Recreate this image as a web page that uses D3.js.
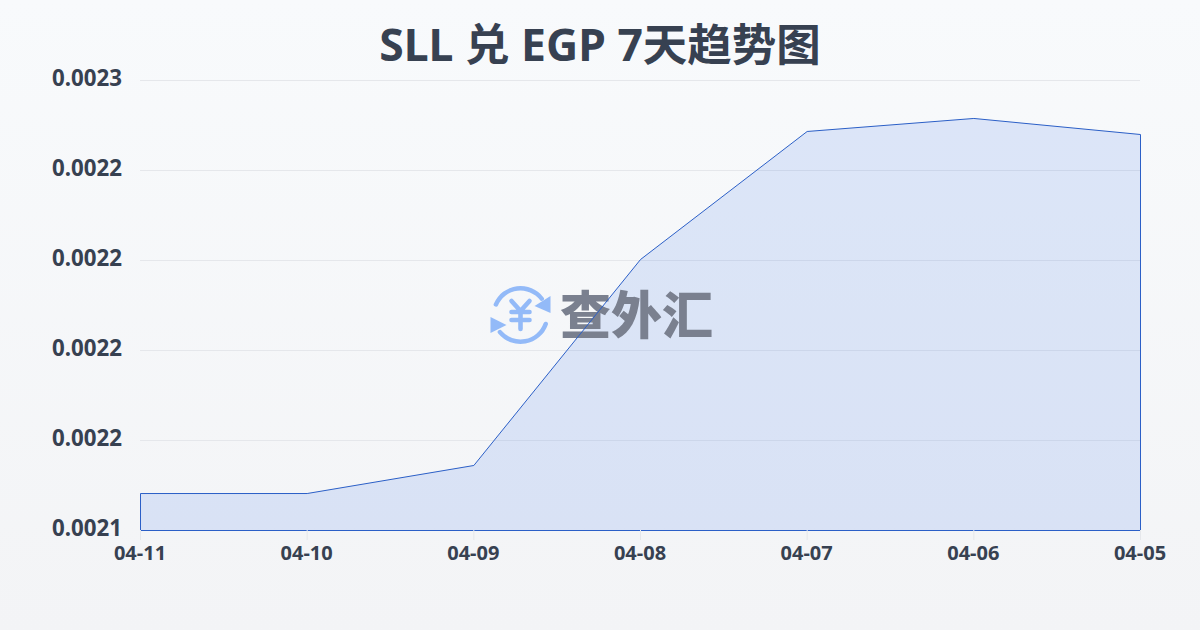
<!DOCTYPE html>
<html><head><meta charset="utf-8">
<script src="https://cdn.jsdelivr.net/npm/d3@7"></script>
<style>html,body{margin:0;padding:0;background:#f8fafc}svg{display:block}</style>
</head><body><div id="c"></div>
<script>
const title = "SLL 兑 EGP 7天趋势图";
const categories = ["04-11","04-10","04-09","04-08","04-07","04-06","04-05"];
const values = [0.00214904,0.00214904,0.00215589,0.00220624,0.00223754,0.00224072,0.00223680];
const yTickValues = [0.00214,0.002162,0.002184,0.002206,0.002228,0.00225];
const yTickLabels = ["0.0021","0.0022","0.0022","0.0022","0.0022","0.0023"];
const watermarkText = "查外汇";
const W=1200,H=630,m={l:140,r:60,t:80,b:100};
const FONT='"Noto Sans","Noto Sans CJK SC",sans-serif';
const INK='#374151';
const LINE='#2b5fc7';
const svg=d3.select('#c').append('svg').attr('width',W).attr('height',H);
const defs=svg.append('defs');
const g=defs.append('linearGradient').attr('id','bg').attr('x1',0).attr('y1',0).attr('x2',0).attr('y2',1);
g.append('stop').attr('offset','0%').attr('stop-color','#f8fafc');
g.append('stop').attr('offset','100%').attr('stop-color','#f3f4f6');
svg.append('rect').attr('width',W).attr('height',H).attr('fill','url(#bg)');
const x=d3.scalePoint().domain(categories).range([m.l,W-m.r]);
const y=d3.scaleLinear().domain([yTickValues[0],yTickValues[5]]).range([H-m.b,m.t]);
svg.append('text').attr('x',600).attr('y',61).attr('text-anchor','middle').attr('font-family',FONT)
 .attr('font-weight',700).attr('font-size',44.5).attr('fill',INK).text(title);
// grid
svg.append('g').selectAll('line').data(yTickValues).join('line')
 .attr('x1',m.l).attr('x2',W-m.r).attr('y1',d=>Math.round(y(d))+.5).attr('y2',d=>Math.round(y(d))+.5)
 .attr('stroke','#e5e7eb').attr('stroke-width',1);
// area fill
const area=d3.area().x((d,i)=>x(categories[i])).y0(y.range()[0]).y1(d=>y(d));
svg.append('path').datum(values).attr('d',area).attr('transform','translate(.5,.5)').attr('fill','#2563eb').attr('fill-opacity',.13);
// watermark
const wm=svg.append('g');
const blue='#93baf8';
const lg=wm.append('g').attr('transform','translate(520.5,315)');
const arc=d3.arc().innerRadius(24.5).outerRadius(29).cornerRadius(2.2);
lg.append('path').attr('fill',blue).attr('d',arc({startAngle:-1.25,endAngle:1.0}));
lg.append('path').attr('fill',blue).attr('d',arc({startAngle:1.83,endAngle:4.1}));
lg.append('path').attr('fill',blue).attr('d','M30,-19 L30,-2 L14,-9 Z');
lg.append('path').attr('fill',blue).attr('d','M-30,2 L-30,18 L-14,10 Z');
lg.append('path').attr('fill','none').attr('stroke',blue).attr('stroke-width',4.6).attr('stroke-linecap','round').attr('stroke-linejoin','round')
 .attr('d','M-9,-14 L0,-4 L9,-14 M0,-4 L0,14 M-9,-3 L9,-3 M-9,5 L9,5');
wm.append('text').attr('x',560).attr('y',334).attr('font-family','"Noto Sans CJK SC"').attr('font-weight',900)
 .attr('font-size',51).attr('fill','#7a808f').text(watermarkText);
// area outline
svg.append('path').datum(values).attr('d',area).attr('transform','translate(.5,.5)').attr('fill','none').attr('stroke',LINE).attr('stroke-width',1);
// axes
svg.append('g').selectAll('text').data(yTickValues).join('text')
 .attr('x',122).attr('y',d=>y(d)+6).attr('text-anchor','end').attr('font-family',FONT).attr('font-weight',700)
 .attr('font-size',22.3).attr('fill',INK).text((d,i)=>yTickLabels[i]);
svg.append('g').selectAll('line').data(categories).join('line')
 .attr('x1',d=>x(d)+.5).attr('x2',d=>x(d)+.5).attr('y1',H-m.b).attr('y2',H-m.b+10).attr('stroke','#e5e7eb');
svg.append('g').selectAll('text').data(categories).join('text')
 .attr('x',d=>x(d)).attr('y',560).attr('text-anchor','middle').attr('font-family',FONT).attr('font-weight',700)
 .attr('font-size',20).attr('fill',INK).text(d=>d);
</script></body></html>
